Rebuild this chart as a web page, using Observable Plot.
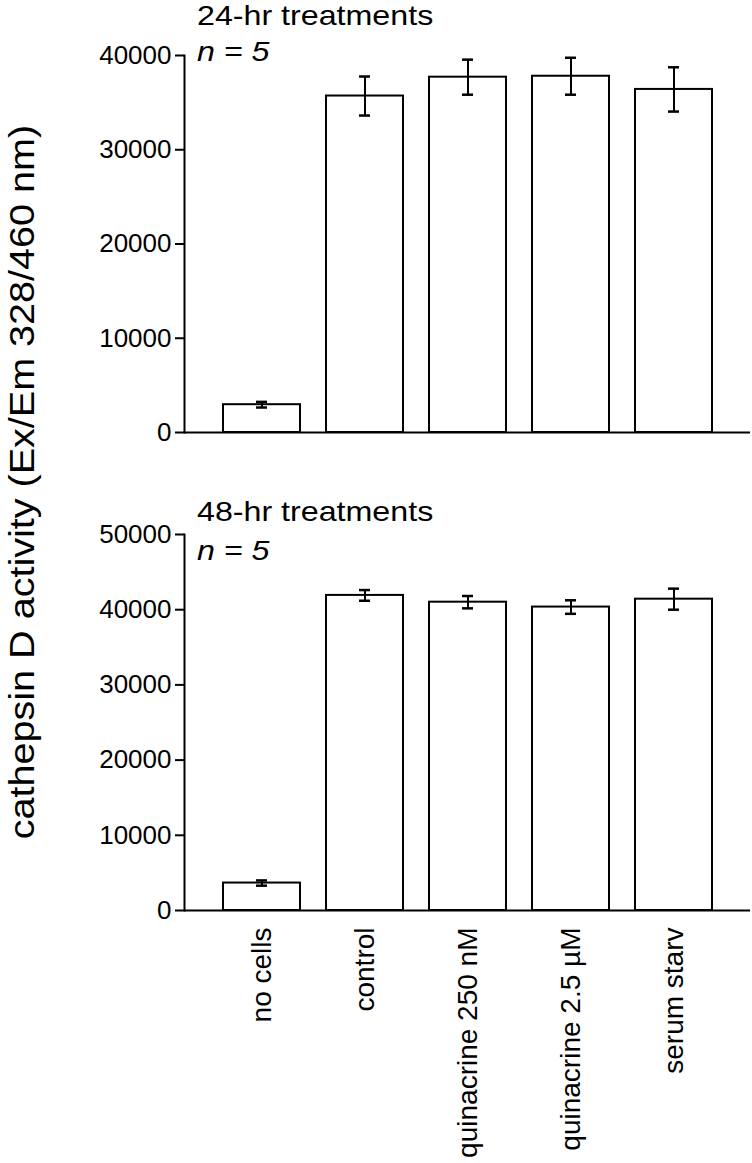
<!DOCTYPE html>
<html>
<head>
<meta charset="utf-8">
<script src="https://cdn.jsdelivr.net/npm/d3@7"></script>
<script src="https://cdn.jsdelivr.net/npm/@observablehq/plot@0.6"></script>
<style>
  html, body { margin: 0; padding: 0; background: #fff; }
  #wrap { position: relative; width: 752px; height: 1163px; overflow: hidden; font-family: Arial, "Liberation Sans", sans-serif; color: #000; }
  .panel { position: absolute; left: 0; }
  .ttl { position: absolute; left: 197px; font-size: 28px; line-height: 1.1; white-space: nowrap; transform-origin: 0 0; transform: scaleX(1.15); }
  .n { font-style: italic; }
  #ylab { position: absolute; left: 22px; top: 482px; font-size: 35px; line-height: 1.1; white-space: nowrap;
          transform: translate(-50%, -50%) rotate(-90deg) scaleX(1.13); }
</style>
</head>
<body>
<div id="wrap">
  <div id="top" class="panel" style="top:0px"></div>
  <div id="bot" class="panel" style="top:470px"></div>
  <div class="ttl" style="top:1px">24-hr treatments</div>
  <div class="ttl n" style="top:37px"><i>n</i> = 5</div>
  <div class="ttl" style="top:497px">48-hr treatments</div>
  <div class="ttl n" style="top:536px"><i>n</i> = 5</div>
  <div id="ylab">cathepsin D activity (Ex/Em 328/460 nm)</div>
</div>
<script>
const categories = ["no cells", "control", "quinacrine 250 nM", "quinacrine 2.5 µM", "serum starv"];
const mean24 = [2950, 35700, 37700, 37800, 36400];
const err24 = [300, 2070, 1860, 1960, 2350];
const mean48 = [3650, 41900, 41000, 40350, 41400];
const err48 = [350, 710, 820, 900, 1400];
const yTicks24 = [0, 10000, 20000, 30000, 40000];
const yTicks48 = [0, 10000, 20000, 30000, 40000, 50000];

function panel(means, errs, ticks, opts) {
  const data = categories.map((c, i) => ({cat: c, v: means[i], lo: means[i] - errs[i], hi: means[i] + errs[i]}));
  const marks = [
    Plot.barY(data, {x: "cat", y: "v", fill: "white", stroke: "black", strokeWidth: 2}),
    Plot.ruleX(data, {x: "cat", y1: "lo", y2: "hi", stroke: "black", strokeWidth: 2}),
    Plot.tickY(data, {x: "cat", y: "hi", stroke: "black", strokeWidth: 2.5, insetLeft: 33, insetRight: 33}),
    Plot.tickY(data, {x: "cat", y: "lo", stroke: "black", strokeWidth: 2.5, insetLeft: 33, insetRight: 33}),
    Plot.ruleY([0], {stroke: "black", strokeWidth: 2}),
    Plot.frame({anchor: "left", stroke: "black", strokeWidth: 2}),
    Plot.axisY({ticks: ticks, tickSize: 9, tickPadding: 4, fontSize: 26, tickFormat: d => String(d), strokeWidth: 2, label: null})
  ];
  if (opts.showX) {
    marks.push(Plot.axisX({tickRotate: -90, tickSize: 0, tickPadding: 17, fontSize: 28, label: null}));
  }
  return Plot.plot({
    width: 752,
    height: opts.height,
    marginTop: opts.marginTop,
    marginBottom: opts.marginBottom,
    marginLeft: 184,
    marginRight: 2,
    style: {fontFamily: 'Arial, "Liberation Sans", sans-serif', color: "black", background: "white", overflow: "visible"},
    x: {domain: categories, paddingInner: 0.255, paddingOuter: 0.365, axis: null},
    y: {domain: [0, d3.max(ticks)], axis: null},
    marks
  });
}

document.getElementById("top").append(panel(mean24, err24, yTicks24, {height: 455, marginTop: 55, marginBottom: 23, showX: false}));
document.getElementById("bot").append(panel(mean48, err48, yTicks48, {height: 693, marginTop: 64, marginBottom: 253, showX: true}));
</script>
</body>
</html>
